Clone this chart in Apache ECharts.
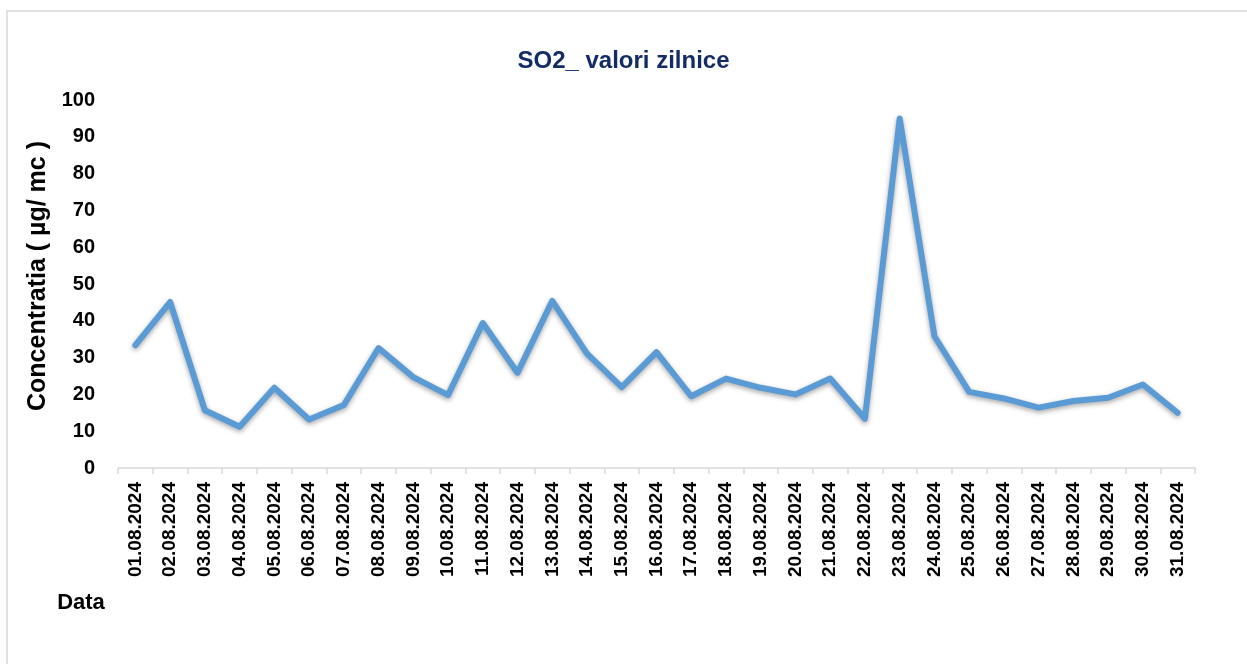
<!DOCTYPE html>
<html>
<head>
<meta charset="utf-8">
<title>SO2_ valori zilnice</title>
<script src="https://cdn.jsdelivr.net/npm/echarts@6/dist/echarts.min.js"></script>
<style>
    html, body {margin: 0; padding: 0; background: #fff;}
    #so2-chart {width: 1247px; height: 664px;}
</style>
</head>
<body>
<div id="so2-chart"></div>
<script>
    "use strict";

    var days = [
        '01.08.2024', '02.08.2024', '03.08.2024', '04.08.2024', '05.08.2024',
        '06.08.2024', '07.08.2024', '08.08.2024', '09.08.2024', '10.08.2024',
        '11.08.2024', '12.08.2024', '13.08.2024', '14.08.2024', '15.08.2024',
        '16.08.2024', '17.08.2024', '18.08.2024', '19.08.2024', '20.08.2024',
        '21.08.2024', '22.08.2024', '23.08.2024', '24.08.2024', '25.08.2024',
        '26.08.2024', '27.08.2024', '28.08.2024', '29.08.2024', '30.08.2024',
        '31.08.2024'
    ];

    // SO2 daily values
    var so2Values = [
        33.4, 45.1, 15.7, 11.2, 21.8, 13.2, 17.1, 32.6, 24.7, 19.8,
        39.4, 25.9, 45.4, 31.1, 22.0, 31.5, 19.5, 24.3, 21.8, 20.0,
        24.3, 13.4, 95.0, 35.8, 20.7, 18.9, 16.4, 18.2, 19.1, 22.7,
        15.0
    ];

    var yTicks = {min: 0, max: 100, step: 10};

    var font = '"Liberation Sans", Arial, sans-serif';

    var chart = echarts.init(document.getElementById('so2-chart'));
    chart.setOption({
        animation: false,
        title: {
            text: 'SO2_ valori zilnice',
            left: 'center',
            top: 44,
            textStyle: {
                color: '#142c66',
                fontFamily: font,
                fontWeight: 'bold',
                fontSize: 24
            }
        },
        grid: {left: 118, right: 52, top: 100, bottom: 196},
        graphic: [
            {
                type: 'rect',
                shape: {x: 7, y: 11, width: 1300, height: 700},
                style: {fill: 'none', stroke: '#d9d9d9', lineWidth: 1.5},
                silent: true
            },
            {
                type: 'text',
                x: 38,
                y: 276,
                rotation: Math.PI / 2,
                style: {
                    text: 'Concentratia ( µg/ mc )',
                    fill: '#000',
                    font: 'bold 25px ' + font,
                    align: 'center',
                    verticalAlign: 'middle'
                }
            },
            {
                type: 'text',
                x: 81,
                y: 603,
                style: {
                    text: 'Data',
                    fill: '#000',
                    font: 'bold 22px ' + font,
                    align: 'center',
                    verticalAlign: 'middle'
                }
            }
        ],
        xAxis: {
            type: 'category',
            data: days,
            boundaryGap: true,
            axisLine: {lineStyle: {color: '#d9d9d9', width: 1.5}},
            axisTick: {show: true, length: 6, lineStyle: {color: '#d9d9d9', width: 1.5}},
            axisLabel: {
                rotate: 90,
                interval: 0,
                margin: 14,
                color: '#000',
                fontFamily: font,
                fontWeight: 'bold',
                fontSize: 19
            },
            splitLine: {show: false}
        },
        yAxis: {
            type: 'value',
            min: yTicks.min,
            max: yTicks.max,
            interval: yTicks.step,
            axisLine: {show: false},
            axisTick: {show: false},
            splitLine: {show: false},
            axisLabel: {
                margin: 23,
                color: '#000',
                fontFamily: font,
                fontWeight: 'bold',
                fontSize: 20
            }
        },
        series: [{
            name: 'SO2',
            type: 'line',
            data: so2Values,
            showSymbol: false,
            symbol: 'none',
            lineStyle: {
                color: '#5b9bd5',
                width: 6,
                join: 'round',
                cap: 'round',
                shadowColor: 'rgba(0, 0, 0, 0.35)',
                shadowBlur: 5,
                shadowOffsetY: 2
            }
        }]
    });
</script>
</body>
</html>
